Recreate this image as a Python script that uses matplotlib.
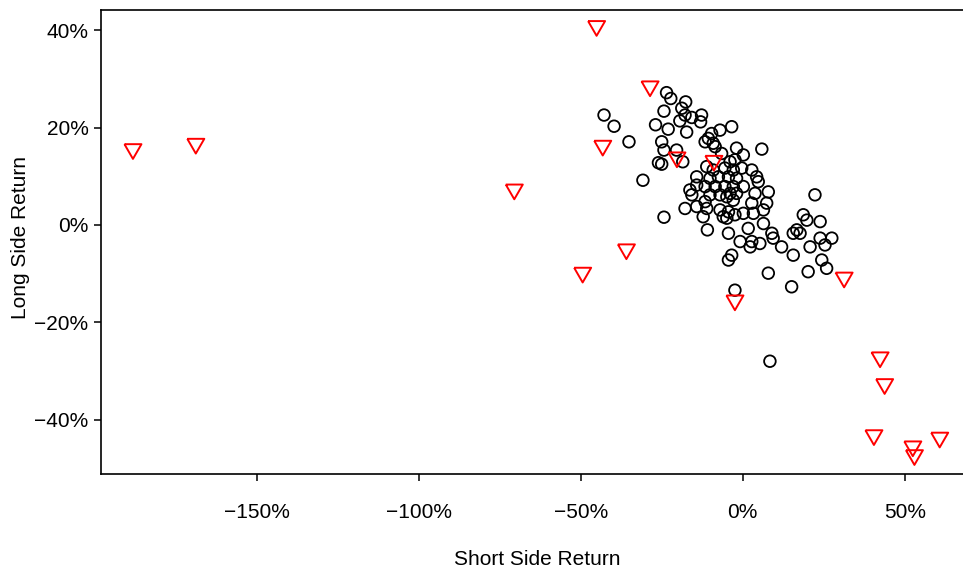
import matplotlib
matplotlib.use("Agg")
import matplotlib.pyplot as plt
from matplotlib.ticker import FuncFormatter

plt.rcParams['font.family'] = ['Liberation Sans', 'DejaVu Sans']

# Red triangles (outliers): short side return (%), long side return (%)
tri_short = [-188.2, -168.8, -45.1, -28.6, -43.2, -70.5, -20.3, -8.9, -35.9,
             -49.4, -2.4, 31.3, 42.4, 43.8, 40.5, 52.5, 53.0, 60.8]
tri_long = [15.1, 16.2, 40.4, 28.0, 15.8, 6.8, 13.4, 12.7, -5.5,
            -10.3, -16.0, -11.3, -27.7, -33.2, -43.7, -46.0, -47.8, -44.2]

# Black circles: short side return (%), long side return (%)
circ_short = [
    -42.8, -39.7, -35.1, -30.8, -23.5, -22.2, -17.6, -24.3, -18.8, -17.8,
    -15.7, -12.7, -13.0, -19.4, -26.9, -23.0, -17.3, -25.0, -24.3, -20.4,
    -26.0, -25.0, -18.5, -24.3,
    -9.6, -7.0, -3.4, -10.6, -11.6, -9.1, -8.5, -1.9, 0.2, 5.9,
    -6.5, -3.9, -2.4, -5.5, -9.1, -11.1, -2.9, -0.3, 2.8, 4.3,
    4.8, -10.1, -7.5, -4.4, -1.9, -14.2, -11.6, -8.5, -5.5, -2.9,
    0.2, 7.9, 22.3, -10.1, -7.0, -3.9, 3.8, -1.9,
    2.8, 7.4, 6.4, -4.4, -2.4, -6.0, 0.2, 3.3, 18.7, 19.8,
    23.9, 6.4, 1.7, 16.7, 15.6, 17.7, -4.4, 9.0, 9.4, -0.8,
    2.8, 2.3, 5.3, 12.0, 15.6, 20.8, 23.9, 25.4, 27.5, 24.4,
    25.9, -3.4, -4.4, 7.9, 20.2, 15.1, -2.4, 8.4,
    -16.3, -15.7, -11.6, -17.8, -14.2, -11.1, -7.0, -4.9, -12.2, -10.9,
    -14.2, -4.9, -2.9,
]
circ_long = [
    22.6, 20.3, 17.1, 9.2, 27.2, 26.0, 25.3, 23.4, 24.0, 22.6,
    22.1, 22.6, 21.2, 21.4, 20.6, 19.7, 19.1, 17.1, 15.4, 15.4,
    12.8, 12.5, 13.0, 1.6,
    18.8, 19.5, 20.2, 17.8, 17.1, 16.8, 16.1, 15.8, 14.4, 15.6,
    14.7, 13.0, 13.4, 11.7, 11.3, 12.0, 11.3, 11.7, 11.3, 9.9,
    8.9, 9.6, 9.9, 9.9, 9.6, 9.9, 7.9, 7.9, 7.9, 7.9,
    7.9, 6.8, 6.2, 6.2, 6.2, 6.5, 6.5, 6.5,
    4.5, 4.5, 3.1, 2.7, 2.1, 1.7, 2.4, 2.4, 2.1, 1.0,
    0.7, 0.3, -0.7, -1.0, -1.7, -1.7, -1.7, -1.7, -2.7, -3.4,
    -3.4, -4.5, -3.8, -4.5, -6.2, -4.5, -2.7, -4.1, -2.7, -7.2,
    -8.9, -6.2, -7.2, -9.9, -9.6, -12.7, -13.4, -28.0,
    7.2, 6.2, 4.8, 3.4, 3.8, 3.4, 3.1, 1.4, 1.7, -1.0,
    8.2, 5.8, 5.1,
]

x_ticks = [-150, -100, -50, 0, 50]
y_ticks = [-40, -20, 0, 20, 40]

fig = plt.figure(figsize=(9.63, 5.68), dpi=100)
ax = fig.add_axes([0.10488, 0.16549, 0.90550, 0.81690])

ax.scatter(circ_short, circ_long, s=70, marker='o', facecolors='none',
           edgecolors='black', linewidths=1.3, zorder=3)

tri_marker = [(-0.866, 0.75), (0.866, 0.75), (0.0, -0.75), (-0.866, 0.75)]
ax.scatter(tri_short, tri_long, s=150, marker=tri_marker, facecolors='none',
           edgecolors='#ff0000', linewidths=1.4, zorder=4)

ax.set_xlim(-198.06, 71.08)
ax.set_ylim(-51.18, 44.19)

fmt = FuncFormatter(lambda v, p: f"{v:.0f}%".replace('-', '\u2212'))
ax.xaxis.set_major_formatter(fmt)
ax.yaxis.set_major_formatter(fmt)
ax.set_xticks(x_ticks)
ax.set_yticks(y_ticks)

ax.tick_params(axis='both', direction='out', length=5, width=1.1,
               labelsize=15, colors='black')
ax.tick_params(axis='x', pad=16)
ax.tick_params(axis='y', pad=4)

for side in ['left', 'bottom', 'top', 'right']:
    ax.spines[side].set_linewidth(1.2)
    ax.spines[side].set_color('black')

ax.set_xlabel("Short Side Return", fontsize=15)
ax.set_ylabel("Long Side Return", fontsize=15)
ax.xaxis.set_label_coords(0.5, -0.1648)
ax.yaxis.set_label_coords(-0.0814, 0.51)

fig.savefig("out.png", dpi=100)
